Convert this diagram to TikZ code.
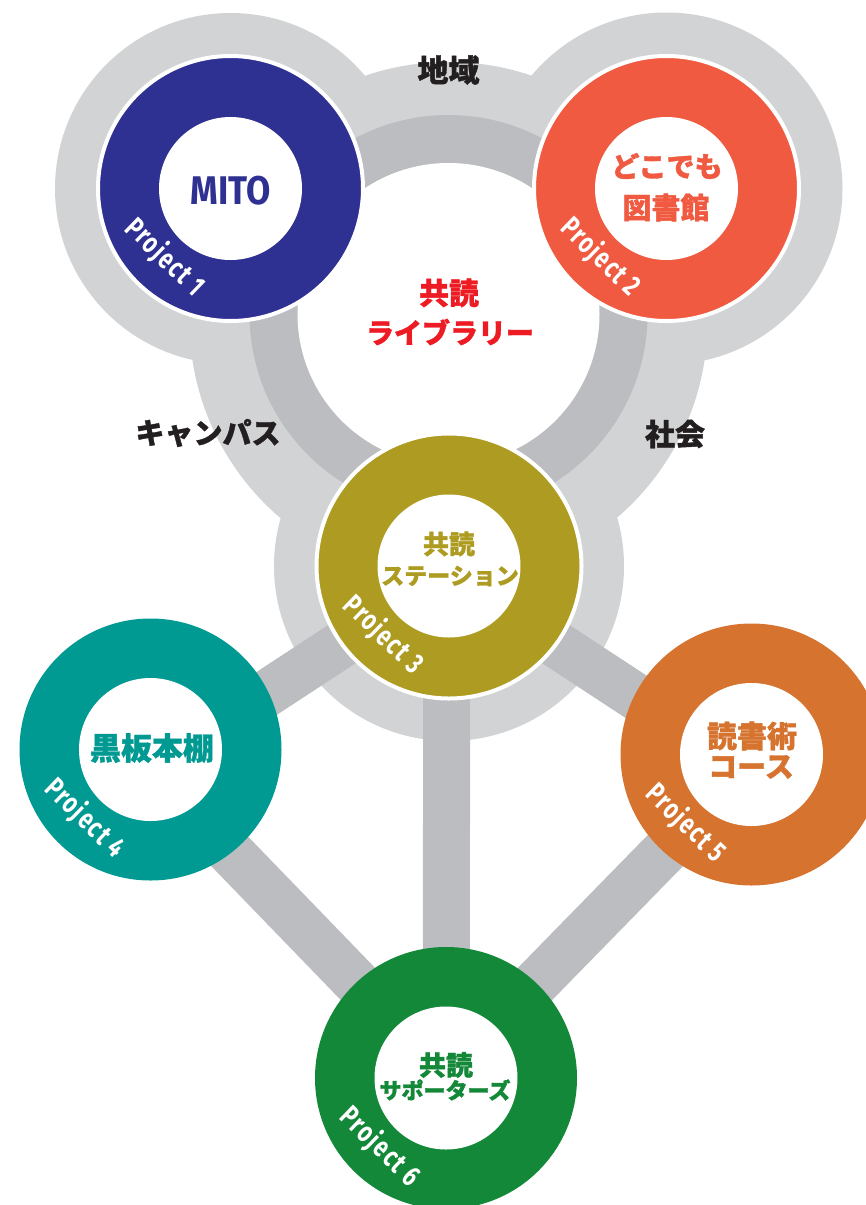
\documentclass[tikz,border=0pt]{standalone}
\usepackage{fontspec}
\newfontfamily\jp{Noto Sans CJK JP}[BoldFeatures={FakeBold=1.2}]
\newfontfamily\din[FakeStretch=0.88]{Fira Sans}
\newfontfamily\dinc[FakeStretch=0.74,LetterSpace=6]{Fira Sans}
\definecolor{lg}{HTML}{D1D3D4}
\definecolor{dg}{HTML}{BCBDC0}
\definecolor{c1}{HTML}{2E3192}
\definecolor{c2}{HTML}{F05A40}
\definecolor{c3}{HTML}{AD9C21}
\definecolor{c4}{HTML}{009A93}
\definecolor{c5}{HTML}{D6732E}
\definecolor{c6}{HTML}{138838}
\definecolor{red1}{HTML}{ED1C24}
\definecolor{ink}{HTML}{231F20}
\pgfdeclarelayer{bg}
\pgfsetlayers{bg,main}
\tikzset{
  pnode/.style={circle, fill=#1, inner sep=0pt, minimum size=262pt,
    path picture={\fill[white] (path picture bounding box.center) circle[radius=71.5pt];}},
  outline/.style={draw=white, line width=4pt, minimum size=265pt},
  plabel/.style={text=white, rotate=-44, inner sep=0pt, font=\dinc\bfseries\fontsize{29}{29}\selectfont},
  band/.style={draw=dg, line width=47pt},
  jt/.style={inner sep=0pt, font=\jp\bfseries\fontsize{#1}{#1}\selectfont},
}
\begin{document}
\begin{tikzpicture}[x=1pt,y=-1pt]
\useasboundingbox (0,0) rectangle (866,1205);
% project circles
\node[pnode=c1,outline] (p1) at (230.5,188.5) {};
\node[pnode=c2,outline] (p2) at (666.5,188.5) {};
\node[pnode=c3,outline] (p3) at (449,566) {};
\node[pnode=c4] (p4) at (150.5,749.5) {};
\node[pnode=c5] (p5) at (751.5,754.5) {};
\node[pnode=c6] (p6) at (446,1078) {};
\coordinate (lib) at (448.5,314);
\coordinate (libo) at (448.5,321);
% background shapes and connectors
\begin{pgfonlayer}{bg}
\fill[lg] (libo) circle[radius=259pt];
\fill[lg] (p1.center) circle[radius=175.5pt];
\fill[lg] (p2.center) circle[radius=176pt];
\fill[lg] (p3.center) circle[radius=175pt];
\fill[dg] (lib) circle[radius=199pt];
\fill[white] (lib) circle[radius=151pt];
\draw[band] ([xshift=-2pt]p3.center) -- (p6.center);
\draw[band] ([yshift=-8pt]p3.center) -- ([yshift=-20pt]p4.center);
\draw[band] ([yshift=-8pt]p3.center) -- ([yshift=-18pt]p5.center);
\draw[band] ([yshift=-20pt]p4.center) -- ([yshift=3pt]p6.center);
\draw[band] ([yshift=-8pt]p5.center) -- ([yshift=3pt]p6.center);
\end{pgfonlayer}
% area labels
\node[jt=31, text=ink] (t1) at (448.5,70) {地域};
\node[jt=29, text=ink] (t2) at (208,433) {キャンパス};
\node[jt=30, text=ink] (t3) at (675,434) {社会};
\node[jt=30, text=red1] (t4) at (449,293) {共読};
\node[jt=28, text=red1] (t5) at (450,332) {ライブラリー};
% inner texts
\node[inner sep=0pt, text=c1, font=\din\bfseries\fontsize{40}{40}\selectfont] (m1) at (230.5,191) {MITO};
\node[jt=28, text=c2] (m2a) at (667,166) {どこでも};
\node[jt=29, text=c2] (m2b) at (666,207.5) {図書館};
\node[jt=26, text=c3] (m3a) at (449,544) {共読};
\node[jt=23, text=c3] (m3b) at (450,576) {ステーション};
\node[jt=31, text=c4] (m4) at (152,748) {黒板本棚};
\node[jt=30, text=c5] (m5a) at (752,736) {読書術};
\node[jt=29, text=c5] (m5b) at (751,767) {コース};
\node[jt=27, text=c6] (m6a) at (446,1065) {共読};
\node[jt=22, text=c6] (m6b) at (445,1090) {サポーターズ};
% project labels
\node[plabel] (l1) at ([shift={(-66,69)}]p1.center) {Project 1};
\node[plabel] (l2) at ([shift={(-66,69)}]p2.center) {Project 2};
\node[plabel] (l3) at ([shift={(-66,69)}]p3.center) {Project 3};
\node[plabel] (l4) at ([shift={(-66,69)}]p4.center) {Project 4};
\node[plabel] (l5) at ([shift={(-66,69)}]p5.center) {Project 5};
\node[plabel] (l6) at ([shift={(-66,69)}]p6.center) {Project 6};
\end{tikzpicture}
\end{document}
